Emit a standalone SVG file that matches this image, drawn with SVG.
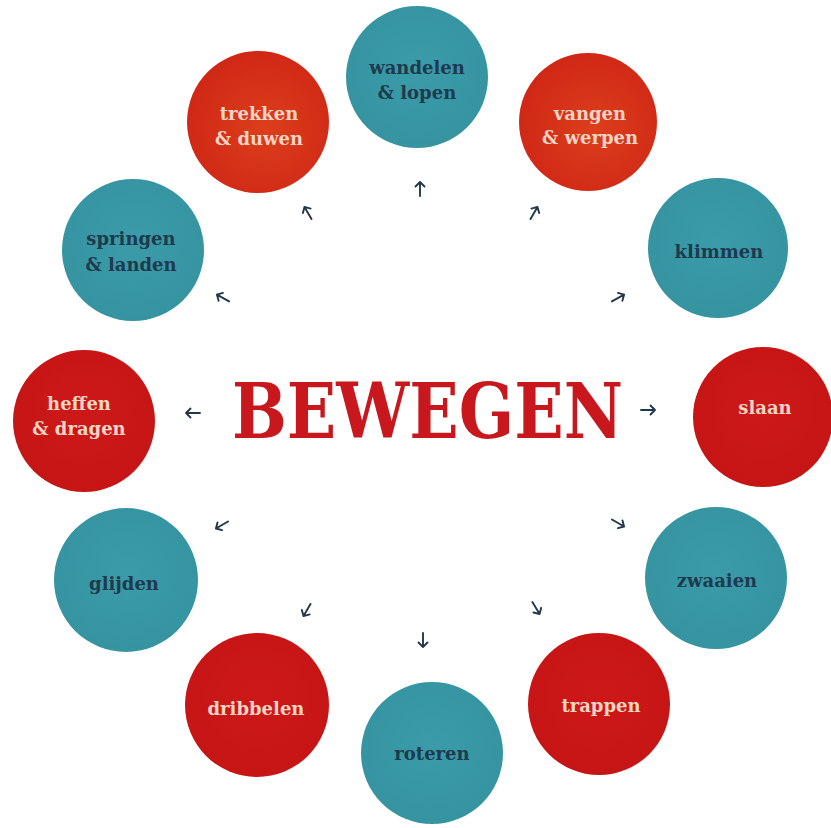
<svg xmlns="http://www.w3.org/2000/svg" width="831" height="828" viewBox="0 0 831 828">
<style>
.lbl{font-family:"DejaVu Serif","Liberation Serif",serif;font-size:18px;text-anchor:middle}
.dk{fill:#1d3a4e;font-weight:bold}
.lt{fill:#f4d4c2;font-weight:bold}
.teal{fill:url(#gTeal)}
.red{fill:url(#gRed)}
.orange{fill:url(#gOrange)}
.arr{fill:none;stroke:#22384a;stroke-width:1.9;stroke-linecap:round;stroke-linejoin:round}
.title{font-family:"DejaVu Serif","Liberation Serif",serif;font-weight:bold;font-size:77px;fill:#c8181e}
</style>
<defs>
<radialGradient id="gTeal" cx="50%" cy="45%" r="55%">
<stop offset="0" stop-color="#3b9ba8"/><stop offset="1" stop-color="#3694a1"/>
</radialGradient>
<radialGradient id="gRed" cx="50%" cy="45%" r="55%">
<stop offset="0" stop-color="#cd1818"/><stop offset="1" stop-color="#c61515"/>
</radialGradient>
<radialGradient id="gOrange" cx="55%" cy="55%" r="55%">
<stop offset="0" stop-color="#dc3f1c"/><stop offset="1" stop-color="#d02816"/>
</radialGradient>
<path id="a" d="M0,7 V-7 M-4.5,-2.5 L0,-7 L4.5,-2.5"/>
</defs>
<rect width="831" height="828" fill="#ffffff"/>

<text class="title" x="232" y="438" textLength="391" lengthAdjust="spacingAndGlyphs">BEWEGEN</text>

<g id="connectors" class="arr">
<use href="#a" transform="translate(420,189) rotate(0)"/>
<use href="#a" transform="translate(534,213) rotate(30)"/>
<use href="#a" transform="translate(618,298) rotate(61)"/>
<use href="#a" transform="translate(648,410) rotate(90)"/>
<use href="#a" transform="translate(618,523) rotate(120)"/>
<use href="#a" transform="translate(536,608) rotate(149)"/>
<use href="#a" transform="translate(423,640) rotate(180)"/>
<use href="#a" transform="translate(307,610) rotate(210)"/>
<use href="#a" transform="translate(222,525) rotate(240)"/>
<use href="#a" transform="translate(193,413) rotate(270)"/>
<use href="#a" transform="translate(223,298) rotate(299)"/>
<use href="#a" transform="translate(308,213) rotate(330)"/>
</g>

<g id="wandelen"><circle class="teal" cx="417" cy="77" r="71"/><text class="lbl dk" x="417" y="74">wandelen</text><text class="lbl dk" x="417" y="99">&amp; lopen</text></g>
<g id="vangen"><circle class="orange" cx="588" cy="122" r="69"/><text class="lbl lt" x="590" y="120">vangen</text><text class="lbl lt" x="590" y="144">&amp; werpen</text></g>
<g id="klimmen"><circle class="teal" cx="718" cy="248" r="70"/><text class="lbl dk" x="719" y="258">klimmen</text></g>
<g id="slaan"><circle class="red" cx="763" cy="417" r="70"/><text class="lbl lt" x="765" y="414">slaan</text></g>
<g id="zwaaien"><circle class="teal" cx="716" cy="578" r="71"/><text class="lbl dk" x="717" y="587">zwaaien</text></g>
<g id="trappen"><circle class="red" cx="599" cy="704" r="71"/><text class="lbl lt" x="601" y="712">trappen</text></g>
<g id="roteren"><circle class="teal" cx="432" cy="753" r="71"/><text class="lbl dk" x="432" y="760">roteren</text></g>
<g id="dribbelen"><circle class="red" cx="257" cy="705" r="72"/><text class="lbl lt" x="256" y="715">dribbelen</text></g>
<g id="glijden"><circle class="teal" cx="126" cy="580" r="72"/><text class="lbl dk" x="124" y="590">glijden</text></g>
<g id="heffen"><circle class="red" cx="84" cy="421" r="71"/><text class="lbl lt" x="79" y="410">heffen</text><text class="lbl lt" x="79" y="435">&amp; dragen</text></g>
<g id="springen"><circle class="teal" cx="133" cy="250" r="71"/><text class="lbl dk" x="131" y="245">springen</text><text class="lbl dk" x="131" y="271">&amp; landen</text></g>
<g id="trekken"><circle class="orange" cx="258" cy="122" r="71"/><text class="lbl lt" x="259" y="120">trekken</text><text class="lbl lt" x="259" y="145">&amp; duwen</text></g>
</svg>
